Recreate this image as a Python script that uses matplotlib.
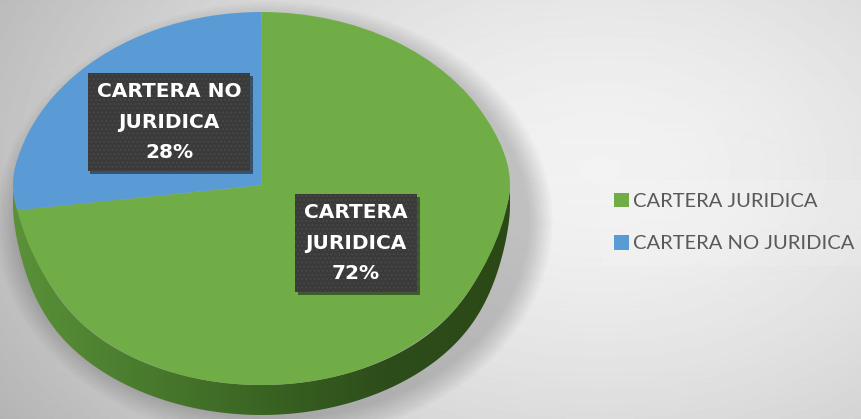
import textwrap

import matplotlib

matplotlib.use("Agg")
import matplotlib.pyplot as plt
import matplotlib.patheffects as pe
import numpy as np
from matplotlib.colors import LinearSegmentedColormap
from matplotlib.patches import Ellipse, Patch, Polygon

plt.rcParams["font.family"] = ["Lato", "DejaVu Sans"]

categories = ["CARTERA JURIDICA", "CARTERA NO JURIDICA"]
shares = [72, 28]
colors = ["#70AD47", "#5B9BD5"]

W, H = 861, 419
fig = plt.figure(figsize=(W / 100, H / 100), dpi=100)

# background: soft radial grey gradient
bg = fig.add_axes([0, 0, 1, 1])
bg.set_xlim(0, W)
bg.set_ylim(H, 0)
bg.axis("off")
yy, xx = np.mgrid[0:H, 0:W]
dist = np.hypot((xx - 600) / 620, (yy - 170) / 420)
shade = 0.95 - 0.2 * np.clip(dist, 0, 1.2) ** 1.6
bg.imshow(shade, cmap="gray", vmin=0, vmax=1, extent=(0, W, H, 0), aspect="auto", zorder=0)

# soft shadow under the pie
for k in range(10):
    bg.add_patch(Ellipse((274, 222), 512 + 5 * k, 395 + 5 * k, fc="#000000",
                         alpha=0.02, lw=0, zorder=1))

# legend backdrop
bg.add_patch(plt.Rectangle((602, 180), 259, 86, fc="white", alpha=0.12, lw=0, zorder=1))

# pie axes: unit circle squashed into its own box, with a mild perspective warp
depth = 0.16
px_left, px_right, px_top, px_bottom = 13, 510, 12, 415


def tilt(y):
    y = np.asarray(y, dtype=float)
    return y + 0.13 * np.exp(-((y + 0.25) / 0.326) ** 2)


_grid = np.linspace(-3, 3, 6001)


def untilt(v):
    return np.interp(v, tilt(_grid), _grid)


ax = fig.add_axes([px_left / W, (H - px_bottom) / H,
                   (px_right - px_left) / W, (px_bottom - px_top) / H])
ax.axis("off")

wedges, _ = ax.pie(shares, colors=colors, startangle=90, counterclock=False,
                   radius=1, wedgeprops=dict(linewidth=0, zorder=2))
ax.set_aspect("auto")
ax.set_yscale("function", functions=(tilt, untilt))

# side wall of the disc (front half)
t = np.linspace(np.pi, 2 * np.pi, 200)
top_edge = np.column_stack([np.cos(t), np.sin(t)])
bot_edge = top_edge[::-1] - [0, depth]
side = Polygon(np.vstack([top_edge, bot_edge]), closed=True, fc="none", lw=0, zorder=1)
ax.add_patch(side)
side_cmap = LinearSegmentedColormap.from_list(
    "side", ["#5a9139", "#4a7c2e", "#3a6423", "#2d4d1a", "#2b4917"])
grad = np.linspace(0, 1, 256)[None, :]
img = ax.imshow(grad, cmap=side_cmap, extent=(-1, 1, -1 - depth, 0.2), aspect="auto", zorder=1)
img.set_clip_path(side)
ax.set_xlim(-1, 1)
ax.set_ylim(-1 - depth, 1)

# data labels in dark boxes
label_pos = [(356 / W, 1 - 243 / H), (169 / W, 1 - 122 / H)]
for cat, val, (lx, ly) in zip(categories, shares, label_pos):
    txt = fig.text(lx, ly, f"{textwrap.fill(cat, 10)}\n{val}%", ha="center", va="center",
                   color="white", fontsize=14.5, fontweight="bold", linespacing=1.75,
                   family=["DejaVu Sans"],
                   bbox=dict(boxstyle="square,pad=0.45", fc="#3a3a3a", ec="#474747",
                             hatch="....", lw=0))
    txt.get_bbox_patch().set_path_effects([
        pe.SimplePatchShadow(offset=(2, -2), shadow_rgbFace="black", alpha=0.45),
        pe.Normal()])

fig.legend(handles=[Patch(fc=c, ec="none") for c in colors], labels=categories,
           loc="center left", bbox_to_anchor=(614 / W, 1 - 222.5 / H), frameon=False,
           fontsize=14.5, labelcolor="#595959", handlelength=0.75, handleheight=0.75,
           handletextpad=0.2, labelspacing=1.25, borderpad=0, borderaxespad=0)

fig.savefig("out.png", dpi=100)
